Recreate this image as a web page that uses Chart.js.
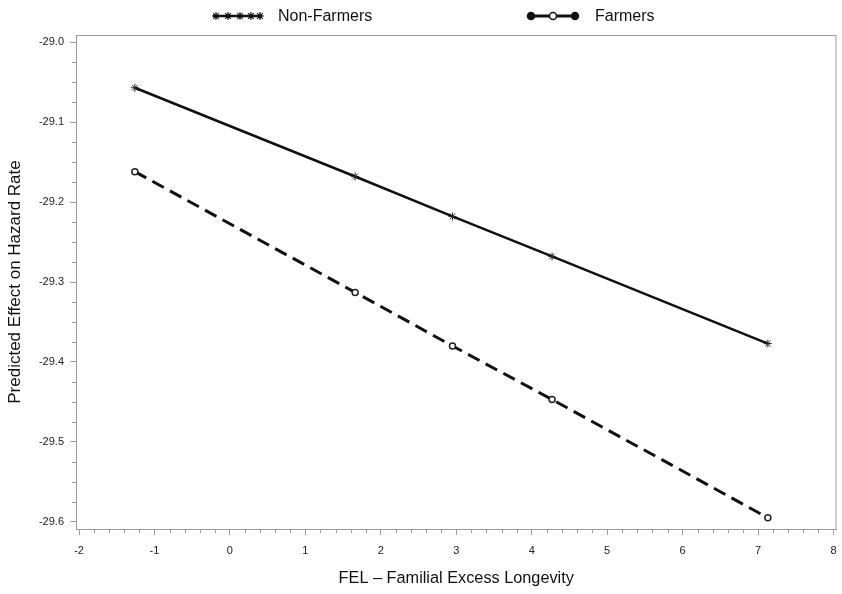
<!DOCTYPE html>
<html>
<head>
<meta charset="utf-8">
<script src="https://cdn.jsdelivr.net/npm/chart.js@4/dist/chart.umd.min.js"></script>
<style>
  body { margin: 0; background: #fff; }
</style>
</head>
<body>
<canvas id="fel-chart" width="842" height="594"></canvas>
<script>
// valores
const felValues = [-1.26, 1.66, 2.95, 4.27, 7.13];
const nonFarmers = [-29.057, -29.168, -29.218, -29.268, -29.377];
const farmers = [-29.162, -29.313, -29.380, -29.447, -29.595];
const xTicks = [-2, -1, 0, 1, 2, 3, 4, 5, 6, 7, 8];
const yTicks = [-29.0, -29.1, -29.2, -29.3, -29.4, -29.5, -29.6];

const FONT = 'Liberation Sans, Arial, sans-serif';
const AXIS_GRAY = '#9c9c9c';

// asterisco simples para a legenda
function drawStar(ctx, x, y, r) {
    ctx.beginPath();
    for (let k = 0; k < 4; k++) {
        const ang = k * Math.PI / 4;
        ctx.moveTo(x - r * Math.cos(ang), y - r * Math.sin(ang));
        ctx.lineTo(x + r * Math.cos(ang), y + r * Math.sin(ang));
    }
    ctx.stroke();
}

// moldura + ticks menores
const frameAndMinor = {
    id: 'frameAndMinor',
    afterDraw(chart) {
        const { ctx, chartArea: a, scales: { x, y } } = chart;
        ctx.save();
        ctx.strokeStyle = AXIS_GRAY;
        ctx.lineWidth = 1;
        ctx.strokeRect(a.left + 0.5, a.top + 0.5, a.right - a.left - 1, a.bottom - a.top);
        ctx.beginPath();
        for (let i = 0; i < xTicks.length - 1; i++) {
            for (let k = 1; k < 5; k++) {
                const px = Math.round(x.getPixelForValue(xTicks[i] + k * 0.2)) + 0.5;
                ctx.moveTo(px, a.bottom);
                ctx.lineTo(px, a.bottom + 4);
            }
        }
        for (let i = 0; i < yTicks.length - 1; i++) {
            for (let k = 1; k < 4; k++) {
                const py = Math.round(y.getPixelForValue(yTicks[i] - k * 0.025)) + 0.5;
                ctx.moveTo(a.left, py);
                ctx.lineTo(a.left - 4, py);
            }
        }
        ctx.stroke();
        ctx.restore();
    }
};

// legenda no topo
const topLegend = {
    id: 'topLegend',
    afterDraw(chart) {
        const ctx = chart.ctx;
        const ds = chart.data.datasets;
        const cy = 16;
        ctx.save();
        ctx.strokeStyle = '#111';
        // Non-Farmers
        ctx.lineWidth = 2.5;
        ctx.beginPath();
        ctx.moveTo(213, cy);
        ctx.lineTo(262, cy);
        ctx.stroke();
        ctx.lineWidth = 1.2;
        [216, 228, 240, 251, 260].forEach(px => drawStar(ctx, px, cy, 4));
        // Farmers
        ctx.lineWidth = 3;
        ctx.beginPath();
        ctx.moveTo(529, cy);
        ctx.lineTo(577, cy);
        ctx.stroke();
        [[531, '#111'], [553, '#fff'], [575, '#111']].forEach(([px, fill]) => {
            ctx.fillStyle = fill;
            ctx.lineWidth = 1.5;
            ctx.beginPath();
            ctx.arc(px, cy, 3.5, 0, Math.PI * 2);
            ctx.fill();
            ctx.stroke();
        });
        ctx.fillStyle = '#111';
        ctx.font = '16px ' + FONT;
        ctx.textBaseline = 'middle';
        ctx.fillText(ds[0].label, 278, cy + 1);
        ctx.fillText(ds[1].label, 595, cy + 1);
        ctx.restore();
    }
};

const ctxFel = document.getElementById('fel-chart').getContext('2d');
const felChart = new Chart(ctxFel, {
    type: 'line',
    data: {
        datasets: [{
            label: 'Non-Farmers',
            data: felValues.map((v, i) => ({ x: v, y: nonFarmers[i] })),
            borderColor: '#111',
            borderWidth: 2.5,
            pointStyle: 'star',
            pointRadius: 4,
            pointBorderWidth: 1,
            pointBorderColor: '#222',
            tension: 0
        }, {
            label: 'Farmers',
            data: felValues.map((v, i) => ({ x: v, y: farmers[i] })),
            borderColor: '#111',
            borderWidth: 3,
            borderDash: [13, 7],
            pointStyle: 'circle',
            pointRadius: 3,
            pointBackgroundColor: '#fff',
            pointBorderColor: '#222',
            pointBorderWidth: 1.5,
            tension: 0
        }]
    },
    options: {
        responsive: false,
        animation: false,
        layout: { padding: { top: 35, right: 3, left: 0, bottom: 0 } },
        plugins: { legend: { display: false }, tooltip: { enabled: false } },
        scales: {
            x: {
                type: 'linear',
                min: -2.04,
                max: 8.04,
                afterBuildTicks: s => { s.ticks = xTicks.map(v => ({ value: v })); },
                afterFit: s => { s.height = 65; s.paddingRight = 0; s.paddingLeft = 0; },
                grid: { drawOnChartArea: false, drawTicks: true, tickLength: 6, tickColor: AXIS_GRAY },
                border: { display: true, color: AXIS_GRAY },
                ticks: { color: '#222', padding: 9, font: { family: FONT, size: 11 }, maxRotation: 0 },
                title: {
                    display: true,
                    text: 'FEL – Familial Excess Longevity',
                    color: '#111',
                    font: { family: FONT, size: 16.3 },
                    padding: { top: 4, bottom: 6 }
                }
            },
            y: {
                type: 'linear',
                min: -29.609,
                max: -28.991,
                afterBuildTicks: s => { s.ticks = yTicks.map(v => ({ value: v })); },
                afterFit: s => { s.width = 76; },
                grid: { drawOnChartArea: false, drawTicks: true, tickLength: 6, tickColor: AXIS_GRAY },
                border: { display: true, color: AXIS_GRAY },
                ticks: {
                    color: '#222',
                    padding: 6,
                    font: { family: FONT, size: 11 },
                    callback: v => v.toFixed(1)
                },
                title: {
                    display: true,
                    text: 'Predicted Effect on Hazard Rate',
                    color: '#111',
                    font: { family: FONT, size: 17 },
                    padding: { top: 5, bottom: 4 }
                }
            }
        }
    },
    plugins: [frameAndMinor, topLegend]
});
</script>
</body>
</html>
